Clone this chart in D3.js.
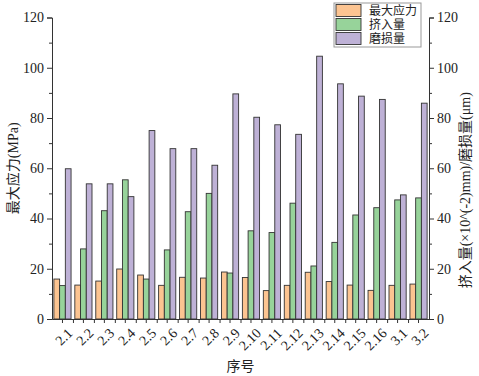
<!DOCTYPE html>
<html>
<head>
<meta charset="utf-8">
<script src="https://cdn.jsdelivr.net/npm/d3@7"></script>
<style>
  body { margin: 0; background: #fff; }
  svg text { font-family: 'Liberation Serif', 'Noto Sans CJK SC', serif; fill: #222; }
  .axis path, .axis line { stroke: #333; }
</style>
</head>
<body>
<div id="chart"></div>
<script>
// categories (序号)
const categories = ['2.1', '2.2', '2.3', '2.4', '2.5', '2.6', '2.7', '2.8', '2.9', '2.10',
  '2.11', '2.12', '2.13', '2.14', '2.15', '2.16', '3.1', '3.2'];

// series
const seriesNames = ['最大应力', '挤入量', '磨损量'];
const maxStress = [15.9, 13.5, 15.1, 19.9, 17.5, 13.4, 16.6, 16.3, 18.7, 16.5,
  11.3, 13.4, 18.6, 14.9, 13.5, 11.4, 13.4, 13.9];
const squeezeIn = [13.3, 27.9, 43.1, 55.4, 15.9, 27.5, 42.7, 50.0, 18.3, 35.1,
  34.4, 46.1, 21.1, 30.5, 41.4, 44.3, 47.4, 48.2];
const wear = [59.8, 53.8, 53.8, 48.7, 75.0, 67.8, 67.8, 61.2, 89.6, 80.3,
  77.3, 73.5, 104.6, 93.6, 88.7, 87.4, 49.4, 85.9];

const yTicks = [0, 20, 40, 60, 80, 100, 120];
const yMinorTicks = [10, 30, 50, 70, 90, 110];
const colors = ['#fcc491', '#97d39a', '#beb1d6'];

const W = 479, H = 376;
const margin = { top: 17.5, right: 50, bottom: 57, left: 52 };
const width = W - margin.left - margin.right;
const height = H - margin.top - margin.bottom;

const svg = d3.select('#chart').append('svg')
  .attr('width', W).attr('height', H);
const g = svg.append('g')
  .attr('transform', 'translate(' + margin.left + ',' + margin.top + ')');

const x = d3.scaleBand().domain(categories).range([0, width]).padding(0);
const groupW = x.bandwidth() * 0.82;
const xSub = d3.scaleBand().domain(seriesNames)
  .range([(x.bandwidth() - groupW) / 2, (x.bandwidth() + groupW) / 2]);
const y = d3.scaleLinear().domain([0, 120]).range([height, 0]);

// bars
const rows = categories.map((c, i) => ({
  cat: c,
  vals: [maxStress[i], squeezeIn[i], wear[i]]
}));

g.append('g').selectAll('g')
  .data(rows)
  .enter().append('g')
  .attr('transform', d => 'translate(' + x(d.cat) + ',0)')
  .selectAll('rect')
  .data(d => d.vals.map((v, k) => ({ key: seriesNames[k], v, k })))
  .enter().append('rect')
  .attr('x', d => xSub(d.key))
  .attr('y', d => y(d.v))
  .attr('width', xSub.bandwidth())
  .attr('height', d => height - y(d.v))
  .attr('fill', d => colors[d.k])
  .attr('stroke', '#333')
  .attr('stroke-width', 0.9);

// left axis
g.append('g').attr('class', 'axis')
  .call(d3.axisLeft(y).tickValues(yTicks).tickSize(5).tickPadding(3))
  .call(a => a.selectAll('text').style('font-size', '14px'));
g.append('g').attr('class', 'axis')
  .call(d3.axisLeft(y).tickValues(yMinorTicks).tickSize(3).tickFormat(''))
  .call(a => a.select('.domain').remove());

// right axis
g.append('g').attr('class', 'axis')
  .attr('transform', 'translate(' + width + ',0)')
  .call(d3.axisRight(y).tickValues(yTicks).tickSize(5).tickPadding(3))
  .call(a => a.selectAll('text').style('font-size', '14px'));
g.append('g').attr('class', 'axis')
  .attr('transform', 'translate(' + width + ',0)')
  .call(d3.axisRight(y).tickValues(yMinorTicks).tickSize(3).tickFormat(''))
  .call(a => a.select('.domain').remove());

// bottom axis: ticks at category centres + band edges
const xAxis = g.append('g').attr('class', 'axis')
  .attr('transform', 'translate(0,' + height + ')')
  .call(d3.axisBottom(x).tickSize(4).tickSizeOuter(0).tickFormat(''));
const xEdge = d3.scaleLinear().domain([0, categories.length]).range([0, width]);
g.append('g').attr('class', 'axis')
  .attr('transform', 'translate(0,' + height + ')')
  .call(d3.axisBottom(xEdge).tickValues(d3.range(1, categories.length)).tickSize(4).tickFormat(''))
  .call(a => a.select('.domain').remove());

// rotated category labels
g.append('g').selectAll('text')
  .data(categories)
  .enter().append('text')
  .attr('transform', d => 'translate(' + (x(d) + x.bandwidth() / 2 + 4) + ',' + (height + 8) + ') rotate(-45)')
  .attr('text-anchor', 'end')
  .attr('dy', '0.7em')
  .style('font-size', '14px')
  .text(d => d);

// axis titles
svg.append('text')
  .attr('transform', 'translate(18,' + (margin.top + height / 2) + ') rotate(-90)')
  .attr('text-anchor', 'middle')
  .style('font-size', '14px')
  .text('最大应力(MPa)');

svg.append('text')
  .attr('transform', 'translate(470,' + (margin.top + height / 2 + 22) + ') rotate(-90)')
  .attr('text-anchor', 'middle')
  .style('font-size', '14px')
  .text('挤入量(×10^(-2)mm)/磨损量(μm)');

svg.append('text')
  .attr('x', margin.left + width / 2)
  .attr('y', 371)
  .attr('text-anchor', 'middle')
  .style('font-size', '14px')
  .text('序号');

// legend
const legend = svg.append('g').attr('transform', 'translate(334,3)');
legend.append('rect')
  .attr('width', 87).attr('height', 44)
  .attr('fill', '#fff').attr('stroke', '#999').attr('stroke-width', 1);
const item = legend.selectAll('g.item')
  .data(seriesNames)
  .enter().append('g')
  .attr('class', 'item')
  .attr('transform', (d, i) => 'translate(2,' + (1.5 + i * 14) + ')');
item.append('rect')
  .attr('width', 25).attr('height', 12)
  .attr('fill', (d, i) => colors[i])
  .attr('stroke', '#333').attr('stroke-width', 0.9);
item.append('text')
  .attr('x', 33).attr('y', 6).attr('dy', '0.36em')
  .style('font-size', '12px')
  .text(d => d);
</script>
</body>
</html>
